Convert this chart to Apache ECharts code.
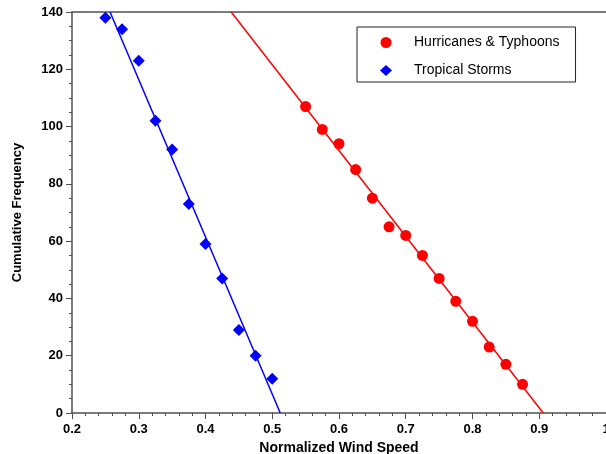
<!DOCTYPE html>
<html>
<head>
<meta charset="utf-8">
<script src="https://cdn.jsdelivr.net/npm/echarts@6/dist/echarts.min.js"></script>
<style>
  html, body { margin: 0; padding: 0; background: #fff; }
  #main { width: 606px; height: 454px; }
</style>
</head>
<body>
<div id="main"></div>
<script>
// hurricanes & typhoons (red circles)
const hurX = [0.55, 0.575, 0.6, 0.625, 0.65, 0.675, 0.7, 0.725, 0.75, 0.775, 0.8, 0.825, 0.85, 0.875]
const hurY = [107, 99, 94, 85, 75, 65, 62, 55, 47, 39, 32, 23, 17, 10]
// tropical storms (blue diamonds)
const tsX = [0.25, 0.275, 0.3, 0.325, 0.35, 0.375, 0.4, 0.425, 0.45, 0.475, 0.5]
const tsY = [138, 134, 123, 102, 92, 73, 59, 47, 29, 20, 12]
// fitted lines, end points
const hurFit = [[0.4385, 140], [0.906, 0]]
const tsFit = [[0.257, 140], [0.512, 0]]

const zip = (xs, ys) => xs.map((x, i) => [x, ys[i]])

const axisCol = '#505050'
const labelFont = { color: '#000', fontSize: 13, fontWeight: 'bold', fontFamily: 'Arial, Liberation Sans, sans-serif' }

const chart = echarts.init(document.getElementById('main'))
chart.setOption({
  animation: false,
  backgroundColor: '#fff',
  grid: { left: 72, right: 0, top: 12, bottom: 41, containLabel: false, outerBoundsMode: 'none' },
  legend: {
    orient: 'vertical',
    left: 357,
    top: 27,
    data: ['Hurricanes & Typhoons', 'Tropical Storms'],
    itemWidth: 12,
    itemHeight: 11,
    itemGap: 13,
    padding: [8, 16, 4, 23],
    borderColor: '#222',
    borderWidth: 1,
    textStyle: { color: '#000', fontSize: 14, lineHeight: 15, padding: [0, 0, 0, 17], fontFamily: 'Arial, Liberation Sans, sans-serif' }
  },
  xAxis: [{
    type: 'value',
    min: 0.2, max: 1.0, interval: 0.1,
    name: 'Normalized Wind Speed',
    nameLocation: 'middle',
    nameGap: 27,
    nameTextStyle: Object.assign({}, labelFont, { fontSize: 14 }),
    axisLine: { lineStyle: { color: axisCol, width: 1.5 } },
    axisTick: { length: 6, lineStyle: { color: axisCol } },
    minorTick: { show: true, splitNumber: 5, length: 3, lineStyle: { color: axisCol } },
    axisLabel: Object.assign({ margin: 10, formatter: v => +v.toFixed(1) + '' }, labelFont),
    splitLine: { show: false }
  }, {
    type: 'value', position: 'top',
    min: 0.2, max: 1.0,
    axisLine: { show: true, lineStyle: { color: axisCol, width: 1.5 } },
    axisTick: { show: false }, axisLabel: { show: false }, splitLine: { show: false }
  }],
  yAxis: {
    type: 'value',
    min: 0, max: 140, interval: 20,
    name: 'Cumulative Frequency',
    nameLocation: 'middle',
    nameGap: 48,
    nameTextStyle: labelFont,
    axisLine: { show: true, lineStyle: { color: axisCol, width: 1.5 } },
    axisTick: { show: true, length: 6, lineStyle: { color: axisCol } },
    minorTick: { show: true, splitNumber: 4, length: 3, lineStyle: { color: axisCol } },
    axisLabel: Object.assign({ margin: 9 }, labelFont),
    splitLine: { show: false }
  },
  series: [
    {
      name: 'hurFit', type: 'line', data: hurFit, symbol: 'none',
      lineStyle: { color: '#ff0000', width: 1.5 }, z: 1
    },
    {
      name: 'tsFit', type: 'line', data: tsFit, symbol: 'none',
      lineStyle: { color: '#0000ff', width: 1.5 }, z: 1
    },
    {
      name: 'Hurricanes & Typhoons', type: 'scatter', data: zip(hurX, hurY),
      symbol: 'circle', symbolSize: 11, itemStyle: { color: '#ff0000', opacity: 1 }, z: 3
    },
    {
      name: 'Tropical Storms', type: 'scatter', data: zip(tsX, tsY),
      symbol: 'diamond', symbolSize: 12, itemStyle: { color: '#0000ff', opacity: 1 }, z: 3
    }
  ]
})
</script>
</body>
</html>
